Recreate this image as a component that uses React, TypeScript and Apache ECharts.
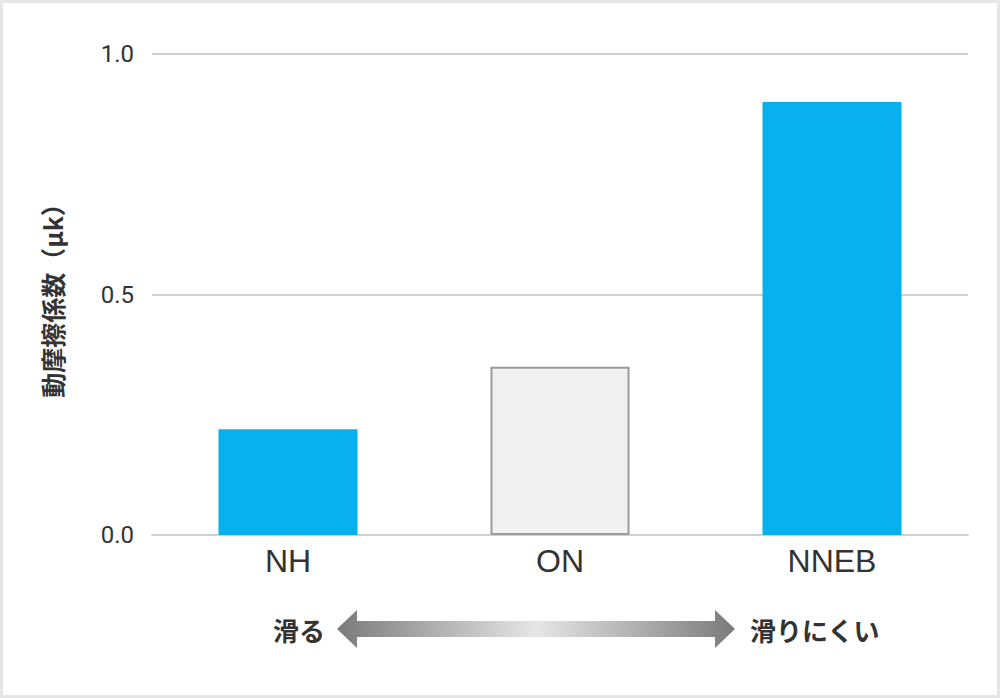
import { useEffect, useRef } from "react";
import * as echarts from "echarts";

const categories = ["NH", "ON", "NNEB"];
const values = [0.22, 0.35, 0.9];
const yTicks = [0, 0.5, 1.0];
const axisName = "動摩擦係数（μk）";
const leftLabel = "滑る";
const rightLabel = "滑りにくい";

const BLUE = "#08b0ef";
const JP = '"Noto Sans CJK JP", "Noto Sans", sans-serif';

export default function App() {
  const ref = useRef<HTMLDivElement>(null);
  useEffect(() => {
    if (!ref.current) return;
    const chart = echarts.init(ref.current, null, { renderer: "svg" });
    chart.setOption({
      animation: false,
      grid: { left: 152, right: 32, top: 54, bottom: 163 },
      xAxis: {
        type: "category",
        data: categories,
        axisTick: { show: false },
        axisLine: { lineStyle: { color: "#d0d0d0", width: 2 } },
        axisLabel: { color: "#333", fontSize: 32, fontFamily: '"Liberation Sans", Arial, sans-serif', margin: 10 },
      },
      yAxis: {
        type: "value",
        min: yTicks[0],
        max: yTicks[yTicks.length - 1],
        interval: 0.5,
        name: axisName,
        nameLocation: "middle",
        nameGap: 88,
        nameTextStyle: { color: "#333", fontSize: 25, fontWeight: "bold", fontFamily: JP },
        axisLine: { show: false },
        axisTick: { show: false },
        axisLabel: {
          color: "#333",
          fontSize: 24,
          fontFamily: "Roboto, sans-serif",
          margin: 18,
          formatter: (v: number) => v.toFixed(1),
        },
        splitLine: { lineStyle: { color: "#d0d0d0", width: 2 } },
      },
      series: [
        {
          type: "bar",
          barWidth: 139,
          data: values.map((v, i) =>
            i === 1
              ? { value: v, itemStyle: { color: "#f1f1f1", borderColor: "#9a9a9a", borderWidth: 2 } }
              : { value: v, itemStyle: { color: BLUE } }
          ),
        },
      ],
      graphic: [
        {
          type: "rect",
          silent: true,
          shape: { x: 1.5, y: 1.5, width: 997, height: 695 },
          style: { fill: "none", stroke: "#e6e6e6", lineWidth: 3 },
        },
        {
          type: "polygon",
          silent: true,
          shape: {
            points: [
              [337, 629], [357, 610], [357, 621], [715, 621], [715, 610],
              [735, 629], [715, 648], [715, 637], [357, 637], [357, 648],
            ],
          },
          style: {
            fill: new echarts.graphic.LinearGradient(0, 0, 1, 0, [
              { offset: 0, color: "#7a7a7a" },
              { offset: 0.5, color: "#e6e6e6" },
              { offset: 1, color: "#7a7a7a" },
            ]),
          },
        },
        {
          type: "text",
          x: 273,
          y: 629,
          style: {
            text: leftLabel,
            fill: "#333",
            font: `bold 26px ${JP}`,
            verticalAlign: "middle",
          },
        },
        {
          type: "text",
          x: 750,
          y: 629,
          style: {
            text: rightLabel,
            fill: "#333",
            font: `bold 26px ${JP}`,
            verticalAlign: "middle",
          },
        },
      ],
    });
    return () => chart.dispose();
  }, []);
  return (
    <div
      ref={ref}
      style={{ position: "fixed", left: 0, top: 0, width: 1000, height: 698, background: "#fff" }}
    />
  );
}
